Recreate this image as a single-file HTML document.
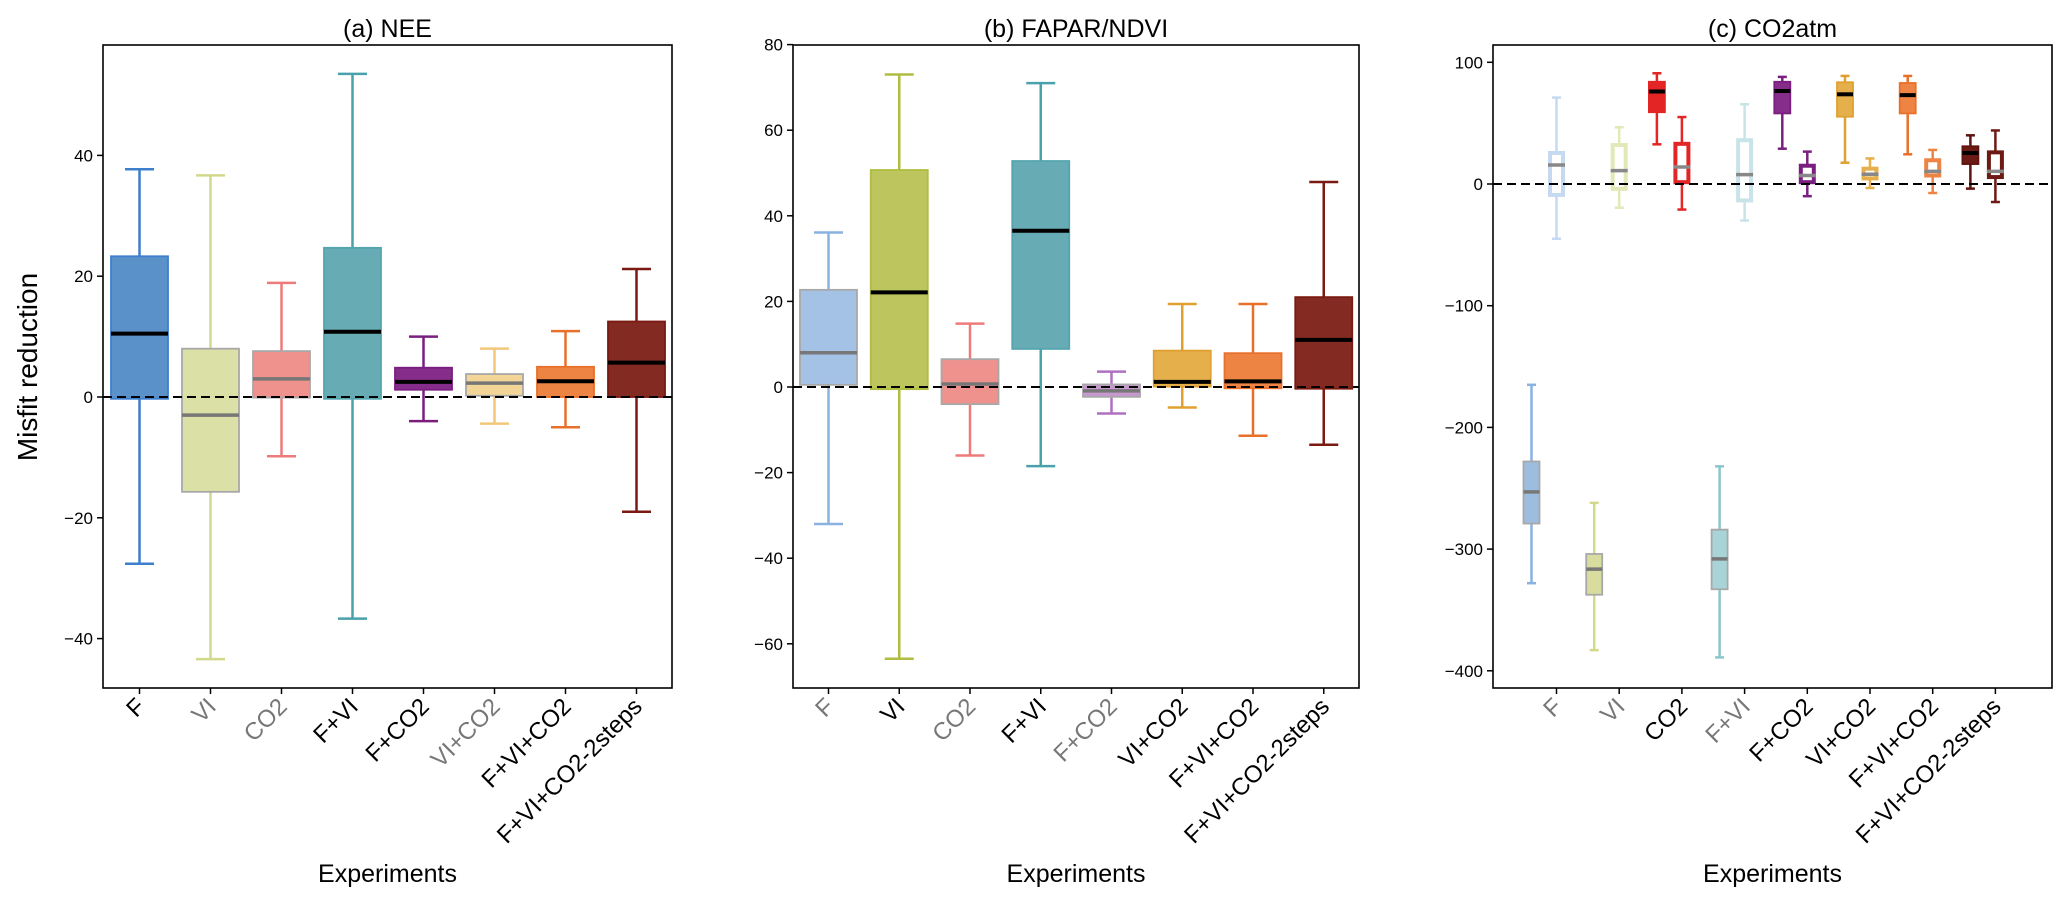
<!DOCTYPE html>
<html><head><meta charset="utf-8"><style>
body{margin:0;background:#fff;}
svg{display:block;font-family:"Liberation Sans","DejaVu Sans",sans-serif;}
</style></head><body>
<svg id="chart" width="2067" height="904" viewBox="0 0 2067 904" xmlns="http://www.w3.org/2000/svg"></svg>
<script>
const categories = ["F","VI","CO2","F+VI","F+CO2","VI+CO2","F+VI+CO2","F+VI+CO2-2steps"];
// Panel (a) NEE
const aLow  = [-27.6,-43.4,-9.8,-36.7,-4,-4.4,-5,-19];
const aQ1   = [-0.3,-15.7,-0.1,-0.3,1.2,0.2,0,0];
const aMed  = [10.5,-3,3,10.8,2.5,2.3,2.6,5.7];
const aQ3   = [23.3,8,7.6,24.7,4.85,3.8,5,12.5];
const aHigh = [37.7,36.7,18.9,53.5,10,8,10.9,21.2];
const aTicks = [-40,-20,0,20,40];
// Panel (b) FAPAR/NDVI
const bLow  = [-32,-63.5,-16,-18.5,-6.2,-4.8,-11.4,-13.5];
const bQ1   = [0.5,-0.5,-4,8.9,-2.3,0.1,-0.3,-0.4];
const bMed  = [8,22.1,0.7,36.5,-0.9,1.2,1.3,11];
const bQ3   = [22.7,50.7,6.5,52.8,0.6,8.5,7.9,21];
const bHigh = [36.1,73,14.8,71,3.6,19.4,19.4,47.9];
const bTicks = [-60,-40,-20,0,20,40,60,80];
// Panel (c) CO2atm - filled boxes (offset left)
const cFillLow  = [-328,-383,32.6,-389,29,17.5,24.4,-3.8];
const cFillQ1   = [-279,-337.5,59,-333,58,55.3,58,16.4];
const cFillMed  = [-253,-316.5,76,-308,76.4,73.7,73,25.5];
const cFillQ3   = [-228,-304,84,-284,84,83.6,83,31];
const cFillHigh = [-165,-262,91,-232,88,88.8,88.8,40];
// Panel (c) CO2atm - hollow boxes (at tick)
const cHolLow  = [-45,-19.5,-21,-30,-10,-3.3,-7.4,-14.8];
const cHolQ1   = [-9,-4,1.5,-13.5,1.5,4.6,7,5.7];
const cHolMed  = [15.6,11,14,7.7,7,8,10.4,10.4];
const cHolQ3   = [25.5,32,33,36,15,12.6,19.5,26];
const cHolHigh = [71,46.6,55,65.5,26.6,21,28,44];
const cTicks = [-400,-300,-200,-100,0,100];

const NS="http://www.w3.org/2000/svg";
const svg=document.getElementById('chart');
function mk(tag,attrs,parent){const e=document.createElementNS(NS,tag);for(const k in attrs)e.setAttribute(k,attrs[k]);(parent||svg).appendChild(e);return e;}

const panels=[
 {title:"(a) NEE",x0:103,x1:672,y0:45,y1:688,zeroY:397,ppu:6.04,firstTick:139.5,step:71,ticks:aTicks,
  grayLabels:[1,2,5],
  fill:["#5b91c9","#dbe0a6","#ef918c","#67abb4","#862d8c","#f3d597","#ee8444","#832b22"],
  edge:["#3d7fcc","#a8a8a8","#a8a8a8","#55a5af","#7a1f80","#a8a8a8","#e8702a","#7a1a12"],
  whisk:["#3d7fcc","#d3d98c","#ee7b7b","#4aa0ab","#7a1f80","#f2c77a","#e8702a","#7a1a12"],
  med:["#000","#777","#777","#000","#000","#777","#000","#000"],
  low:aLow,q1:aQ1,m:aMed,q3:aQ3,hi:aHigh,bw:57,cap:29},
 {title:"(b) FAPAR/NDVI",x0:793,x1:1359,y0:45,y1:688,zeroY:387,ppu:4.28,firstTick:828.5,step:70.75,ticks:bTicks,
  grayLabels:[0,2,4],
  fill:["#a3c2e6","#bcc55e","#ef918c","#67abb4","#c898d0","#e5b04b","#ee8444","#832b22"],
  edge:["#a8a8a8","#b0bd40","#a8a8a8","#55a5af","#a8a8a8","#e0a030","#e8702a","#7a1a12"],
  whisk:["#8ab2e0","#b0bd40","#ee7b7b","#4aa0ab","#b070c0","#e0a030","#e8702a","#7a1a12"],
  med:["#777","#000","#777","#000","#777","#000","#000","#000"],
  low:bLow,q1:bQ1,m:bMed,q3:bQ3,hi:bHigh,bw:57,cap:29}
];

function drawAxes(p,idx){
  const g=mk('g',{});
  
  
  const t=mk('text',{x:(p.x0+p.x1)/2,y:37,'font-size':25,'text-anchor':'middle',fill:'#000'},g);
  t.textContent=p.title;
  
  
  p.ticks.forEach(v=>{
    const y=p.zeroY-v*p.ppu;
    mk('line',{x1:p.x0-6,x2:p.x0,y1:y,y2:y,stroke:'#000','stroke-width':1.5},g);
    const tl=mk('text',{x:p.x0-10,y:y+6,'font-size':17,'text-anchor':'end',fill:'#000'},g);
    tl.textContent=(v<0?'\u2212'+(-v):String(v));
    
    
  });
  categories.forEach((c,i)=>{
    const x=p.firstTick+i*p.step;
    mk('line',{x1:x,x2:x,y1:p.y1,y2:p.y1+6,stroke:'#000','stroke-width':1.5},g);
    const lx=x+7, ly=p.y1+20;
    const tl=mk('text',{x:lx,y:ly,'font-size':24,'text-anchor':'end',fill:p.grayLabels.includes(i)?'#777':'#000',transform:`rotate(-45 ${lx} ${ly})`},g);
    tl.textContent=c;
    
    
  });
  const xt=mk('text',{x:(p.x0+p.x1)/2,y:882,'font-size':25,'text-anchor':'middle',fill:'#000'},g);
  xt.textContent='Experiments';
  
  
  return g;
}
function frame(p,g){
  const r=mk('rect',{x:p.x0,y:p.y0,width:p.x1-p.x0,height:p.y1-p.y0,fill:'none',stroke:'#000','stroke-width':1.6},g);
  
  
}
function zeroLine(p,g){
  const l=mk('line',{x1:p.x0,x2:p.x1,y1:p.zeroY,y2:p.zeroY,stroke:'#000','stroke-width':2,'stroke-dasharray':'9,5'},g);
  
  
}
function box(g,x,bw,cap,Y,lo,q1,m,q3,hi,fill,edge,wc,mc,opts){
  const bg=mk('g',{},g);
  
  
  const sw=opts.ws||2.5;
  mk('line',{x1:x,x2:x,y1:Y(hi),y2:Y(q3),stroke:wc,'stroke-width':sw},bg);
  mk('line',{x1:x,x2:x,y1:Y(q1),y2:Y(lo),stroke:wc,'stroke-width':sw},bg);
  mk('line',{x1:x-cap/2,x2:x+cap/2,y1:Y(hi),y2:Y(hi),stroke:wc,'stroke-width':sw},bg);
  mk('line',{x1:x-cap/2,x2:x+cap/2,y1:Y(lo),y2:Y(lo),stroke:wc,'stroke-width':sw},bg);
  if(opts.hollow){
    mk('rect',{x:x-bw/2+2,y:Y(q3),width:bw-4,height:Math.max(1,Y(q1)-Y(q3)),fill:'#fff',stroke:edge,'stroke-width':4},bg);
  } else {
    mk('rect',{x:x-bw/2,y:Y(q3),width:bw,height:Math.max(1,Y(q1)-Y(q3)),fill:fill,stroke:edge,'stroke-width':1.8},bg);
  }
  mk('line',{x1:x-bw/2,x2:x+bw/2,y1:Y(m),y2:Y(m),stroke:mc,'stroke-width':mc==='#000'?4:3.5},bg);
}

panels.forEach((p,idx)=>{
  const g=drawAxes(p,idx);
  const Y=v=>p.zeroY-v*p.ppu;
  categories.forEach((c,i)=>{
    const x=p.firstTick+i*p.step;
    box(g,x,p.bw,p.cap,Y,p.low[i],p.q1[i],p.m[i],p.q3[i],p.hi[i],p.fill[i],p.edge[i],p.whisk[i],p.med[i],{name:c});
  });
  zeroLine(p,g);
  frame(p,g);
});

// Panel c
const pc={title:"(c) CO2atm",x0:1493,x1:2052,y0:45,y1:688,zeroY:184,ppu:1.217,firstTick:1556.5,step:62.7,ticks:cTicks,grayLabels:[0,1,3]};
const gc=drawAxes(pc,2);
const Yc=v=>pc.zeroY-v*pc.ppu;
const cFill=["#9dbde0","#d8dc9e","#e32526","#a8d4d8","#862d8c","#e5b04b","#ee8444","#6e1a14"];
const cFillEdge=["#a8a8a8","#a8a8a8","#e32526","#a8a8a8","#7a1f80","#e0a030","#e8702a","#5e1410"];
const cFillWh=["#8ab2e0","#d3d98c","#e32526","#8cc6cc","#7a1f80","#e0a030","#e8702a","#5e1410"];
const cFillMedC=["#777","#777","#000","#777","#000","#000","#000","#000"];
const cHol=["#c5daf0","#e3e8b8","#e32526","#c8e4e8","#7a1f80","#e5b04b","#ee8444","#6e1a14"];
const cHolWh=["#c5daf0","#e3e8b8","#e32526","#c8e4e8","#7a1f80","#e5b04b","#ee8444","#6e1a14"];
categories.forEach((c,i)=>{
  const x=pc.firstTick+i*pc.step;
  box(gc,x-25,16,9,Yc,cFillLow[i],cFillQ1[i],cFillMed[i],cFillQ3[i],cFillHigh[i],cFill[i],cFillEdge[i],cFillWh[i],cFillMedC[i],{name:c+'-filled',ws:2.5});
  box(gc,x,17,9,Yc,cHolLow[i],cHolQ1[i],cHolMed[i],cHolQ3[i],cHolHigh[i],'#fff',cHol[i],cHolWh[i],'#888',{name:c+'-hollow',hollow:true,ws:2.5});
});
zeroLine(pc,gc);
frame(pc,gc);

const yl=mk('text',{x:0,y:0,'font-size':28,'text-anchor':'middle',fill:'#000',transform:'translate(37 367) rotate(-90)'});
yl.textContent='Misfit reduction';


</script>
</body></html>
